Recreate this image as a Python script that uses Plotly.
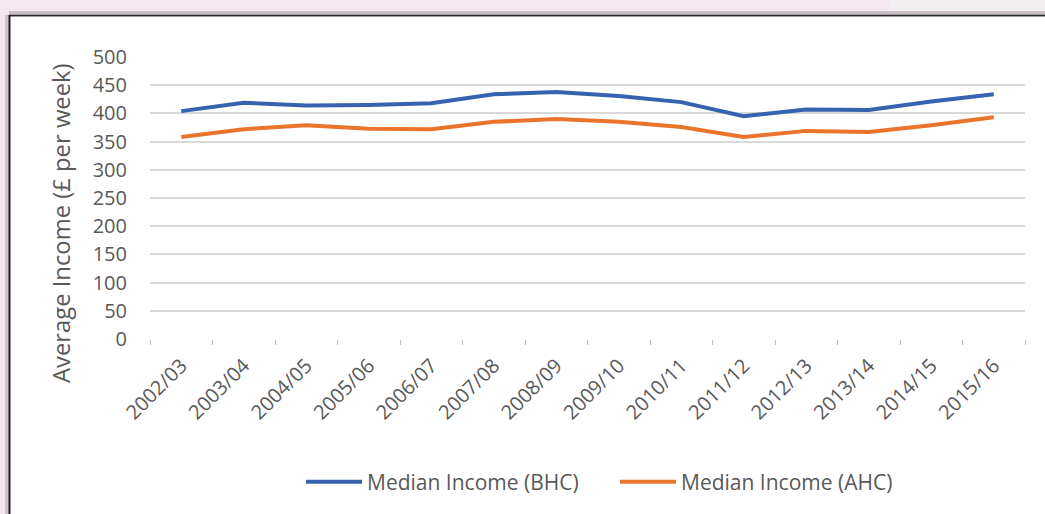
import plotly.graph_objects as go

categories = ["2002/03", "2003/04", "2004/05", "2005/06", "2006/07", "2007/08", "2008/09",
              "2009/10", "2010/11", "2011/12", "2012/13", "2013/14", "2014/15", "2015/16"]
bhc = [404, 419, 414, 415, 418, 434, 438, 431, 420, 395, 407, 406, 421, 434]
ahc = [358, 372, 379, 373, 372, 385, 390, 385, 376, 358, 369, 367, 379, 393]
series_names = ["Median Income (BHC)", "Median Income (AHC)"]
y_ticks = [0, 50, 100, 150, 200, 250, 300, 350, 400, 450, 500]

W, H = 1045, 514
L, R, T, B = 150, 20, 57, 175
PW, PH = W - L - R, H - T - B


def px(x):
    return (x - L) / PW


def py(y):
    return (H - B - y) / PH


FONT = "Open Sans"
GRAY = "#595959"

fig = go.Figure()
fig.add_trace(go.Scatter(x=categories, y=bhc, mode="lines", name=series_names[0],
                         line=dict(color="#3563b0", width=4)))
fig.add_trace(go.Scatter(x=categories, y=ahc, mode="lines", name=series_names[1],
                         line=dict(color="#e9742c", width=4)))

shapes = [
    dict(type="rect", xref="paper", yref="paper", x0=px(9), x1=px(1060), y0=py(530), y1=py(15),
         fillcolor="white", line=dict(width=0), layer="below"),
    dict(type="rect", xref="paper", yref="paper", x0=px(890), x1=px(1060), y0=py(15), y1=py(-5),
         fillcolor="#f1eff0", line=dict(width=0), layer="below"),
    dict(type="rect", xref="paper", yref="paper", x0=px(9), x1=px(1060), y0=py(17), y1=py(11),
         fillcolor="#c9bfc5", line=dict(width=0), layer="below"),
    dict(type="line", xref="paper", yref="paper", x0=px(9), x1=px(1060), y0=py(15.5), y1=py(15.5),
         line=dict(color="#2a2a2a", width=1.5), layer="below"),
    dict(type="rect", xref="paper", yref="paper", x0=px(5), x1=px(9), y0=py(530), y1=py(15),
         fillcolor="#cfc3ca", line=dict(width=0), layer="below"),
    dict(type="line", xref="paper", yref="paper", x0=px(9.5), x1=px(9.5), y0=py(530), y1=py(15),
         line=dict(color="#1e1e1e", width=2), layer="below"),
]

fig.update_layout(
    width=W, height=H,
    margin=dict(l=L, r=R, t=T, b=B),
    paper_bgcolor="#f5e7ef",
    plot_bgcolor="rgba(0,0,0,0)",
    font=dict(family=FONT, color=GRAY),
    shapes=shapes,
    showlegend=True,
    legend=dict(orientation="h", x=px(615), xanchor="center", y=py(482), yanchor="middle",
                font=dict(size=21, color=GRAY, family=FONT), itemwidth=56,
                entrywidth=243, entrywidthmode="pixels",
                bgcolor="rgba(0,0,0,0)", tracegroupgap=0, traceorder="normal"),
    annotations=[dict(text="Average Income (£ per week)", xref="paper", yref="paper",
                      x=px(61), y=py(223), textangle=-90, showarrow=False,
                      font=dict(size=23.8, color=GRAY, family=FONT),
                      xanchor="center", yanchor="middle")],
)

fig.update_xaxes(type="category", tickson="boundaries", ticks="outside", ticklen=5,
                 tickcolor="#bfbfbf", tickangle=-45, showgrid=False, showline=False,
                 tickfont=dict(size=20, color=GRAY, family=FONT), zeroline=False,
                 ticklabelstandoff=10,
                 range=[-0.5, len(categories) - 0.5])
fig.update_yaxes(range=[0, 500], tickvals=y_ticks, showgrid=True, gridcolor="#d9d9d9",
                 gridwidth=1.5, zeroline=False, showline=False, ticks="outside", ticklen=18,
                 tickcolor="rgba(0,0,0,0)", tickfont=dict(size=20, color=GRAY, family=FONT))

fig.write_html("out.html", config={"displayModeBar": False},
               post_script="document.body.style.margin='0';document.body.style.background='#f5e7ef';")
